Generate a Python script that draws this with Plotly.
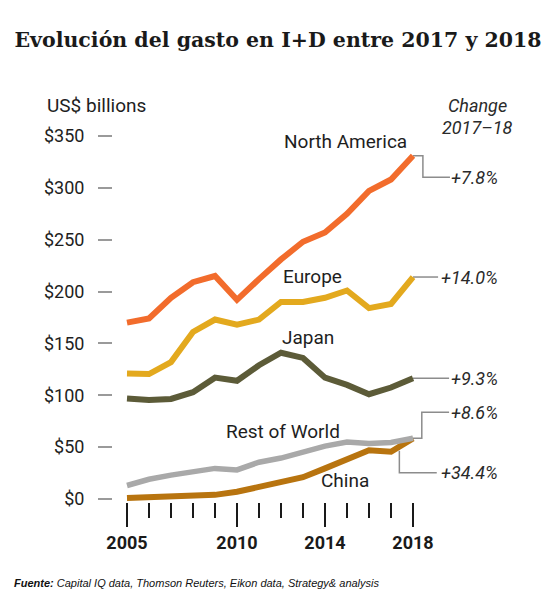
import plotly.graph_objects as go

years = list(range(2005, 2019))
north_america = [170, 174, 194, 209, 215, 192, 212, 231, 248, 257, 275, 297, 308, 331]
europe = [121, 120.5, 132, 161, 173, 168, 173, 190, 190, 194, 201, 184, 188, 214]
japan = [97, 95.5, 96.5, 103, 117, 114, 129, 141, 136, 117, 110, 101, 107.5, 116.5]
rest_of_world = [13, 19, 23, 26, 29.5, 28, 35.5, 39.5, 45, 51, 55, 53.5, 54.5, 58.5]
china = [1, 1.5, 2, 2.5, 4, 7, 11.5, 16, 21, 29.5, 39, 47, 45.5, 58.5]

series_names = ["China", "Rest of World", "Japan", "Europe", "North America"]
series_values = [china, rest_of_world, japan, europe, north_america]
series_colors = ["#B8740F", "#A9A9A9", "#5C5B38", "#E3A91E", "#F26C2C"]
series_widths = [6, 5.5, 6, 6, 6]
changes = ["+34.4%", "+8.6%", "+9.3%", "+14.0%", "+7.8%"]

y_tickvals = [0, 50, 100, 150, 200, 250, 300, 350]
y_ticktext = ["$0", "$50", "$100", "$150", "$200", "$250", "$300", "$350"]
x_major = [2005, 2010, 2014, 2018]
x_minor = [y for y in years if y not in x_major]

FONT = "Roboto"
fig = go.Figure()
for name, vals, col, w in zip(series_names, series_values, series_colors, series_widths):
    fig.add_trace(go.Scatter(x=years, y=vals, mode="lines", name=name,
                             line=dict(color=col, width=w), hoverinfo="skip"))

# series labels (position in data coords)
label_pos = {
    "North America": (2014.93, 345),
    "Europe": (2013.45, 215),
    "Japan": (2013.21, 155.5),
    "Rest of World": (2012.09, 65),
    "China": (2014.93, 17.6),
}
for name, (lx, ly) in label_pos.items():
    fig.add_annotation(x=lx, y=ly, text=name, showarrow=False, xanchor="center", yanchor="middle",
                       font=dict(family=FONT, size=19, color="#1e1e1e"))

# connectors + change labels
last = {n: v[-1] for n, v in zip(series_names, series_values)}
conn_col = "#8c8c8c"
label_x = 2021.95
def path(pts):
    return "M " + " L ".join(f"{x},{y}" for x, y in pts)

connectors = {
    "North America": ([(2018, last["North America"]), (2018.45, last["North America"]), (2018.45, 310.2), (2019.68, 310.2)], 310.2),
    "Europe": ([(2018, last["Europe"]), (2019.14, last["Europe"])], last["Europe"]),
    "Japan": ([(2018, last["Japan"]), (2019.64, last["Japan"])], last["Japan"]),
    "Rest of World": ([(2018, last["Rest of World"]), (2018.40, last["Rest of World"]), (2018.40, 83.6), (2019.64, 83.6)], 83.6),
    "China": ([(2017.38, china[-2] + 1), (2017.38, 25.4), (2019.08, 25.4)], 25.4),
}
for name, chg in zip(series_names, changes):
    pts, ly = connectors[name]
    fig.add_shape(type="path", path=path(pts), xref="x", yref="y",
                  line=dict(color=conn_col, width=1.5), layer="below")
    fig.add_annotation(x=label_x, y=ly, text=f"<i>{chg}</i>", showarrow=False, xanchor="right",
                       yanchor="middle", font=dict(family=FONT, size=18, color="#2a2a2a"))

fig.add_annotation(x=2020.95, y=379, text="<i>Change</i>", showarrow=False, xanchor="center",
                   yanchor="middle", font=dict(family=FONT, size=18, color="#2a2a2a"))
fig.add_annotation(x=2020.95, y=358, text="<i>2017–18</i>", showarrow=False, xanchor="center",
                   yanchor="middle", font=dict(family=FONT, size=18, color="#2a2a2a"))
fig.add_annotation(xref="paper", x=(45 - 113) / 443, y=379, text="US$ billions", showarrow=False,
                   xanchor="left", yanchor="middle", font=dict(family=FONT, size=19, color="#1e1e1e"))
fig.add_annotation(xref="paper", yref="paper", x=(12 - 113) / 443, y=(502 - 582.5) / 407,
                   text="<b><i>Fuente:</i></b><i> Capital IQ data, Thomson Reuters, Eikon data, Strategy&amp; analysis</i>",
                   showarrow=False, xanchor="left", yanchor="middle",
                   font=dict(family="Liberation Sans", size=11, color="#111"))

fig.update_layout(
    width=556, height=593, autosize=False,
    margin=dict(l=113, r=0, t=95, b=91),
    paper_bgcolor="white", plot_bgcolor="white", showlegend=False,
    title=dict(text="<b>Evolución del gasto en I+D entre 2017 y 2018</b>", x=0.5, xanchor="center",
               xref="container", y=1 - 40 / 593, yanchor="middle", yref="container",
               font=dict(family="DejaVu Serif", size=20.5, color="#1a1a1a")),
)
fig.update_xaxes(range=[2004.364, 2024.5], showgrid=False, zeroline=False, showline=False,
                 tickmode="array", tickvals=x_major, ticktext=[str(v) for v in x_major],
                 ticks="outside", ticklen=24, tickwidth=2, tickcolor="#1a1a1a",
                 tickfont=dict(family=FONT, size=18, color="#1a1a1a", weight="bold"),
                 minor=dict(tickmode="array", tickvals=x_minor, ticks="outside", ticklen=15,
                            tickwidth=2, tickcolor="#1a1a1a"))
fig.update_yaxes(range=[-2.89, 389.5], showgrid=False, zeroline=False, showline=False,
                 tickmode="array", tickvals=y_tickvals, ticktext=y_ticktext,
                 ticks="outside", ticklen=14, tickwidth=2, tickcolor="#9a9a9a",
                 ticklabelstandoff=10,
                 tickfont=dict(family=FONT, size=18, color="#1e1e1e"))

fig.write_html("out.html", config={"displayModeBar": False},
               post_script="document.body.style.margin='0px';document.body.style.overflow='hidden';")
